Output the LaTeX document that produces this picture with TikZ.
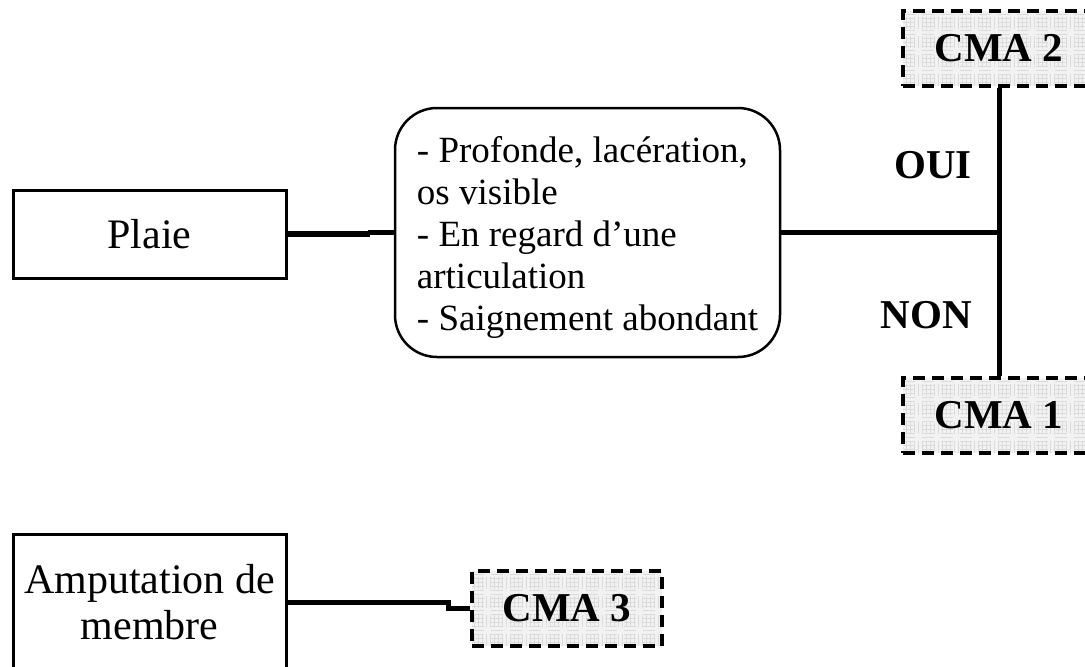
\documentclass[tikz,border=0pt]{standalone}
\usepackage{fontspec}
\setmainfont{Liberation Serif}
\begin{document}
\begin{tikzpicture}[x=1pt,y=-1pt,
  big/.style={font=\fontsize{42}{46}\selectfont},
  plainbox/.style={draw,line width=3pt,big,inner sep=0pt,align=center},
  critbox/.style={draw,line width=2.5pt,rounded corners=42pt,font=\fontsize{37}{42}\selectfont,inner sep=0pt,align=left},
  cmabox/.style={draw,line width=3.5pt,dash pattern=on 12pt off 7pt,fill=gray!10,
    font=\fontsize{41}{41}\selectfont\bfseries,inner sep=0pt,
    minimum width=192pt,minimum height=75pt,
    path picture={\draw[gray!28,line width=0.5pt,step=4pt]
      (path picture bounding box.south west) grid (path picture bounding box.north east);}},
  lbl/.style={font=\fontsize{41}{41}\selectfont\bfseries,inner sep=0pt},
  conn/.style={line width=4.5pt},
]
\useasboundingbox (0,0) rectangle (1085,667);

\node[plainbox,minimum width=273pt,minimum height=88pt] (plaie) at (149.5,234) {Plaie};
\node[critbox,minimum width=385pt,minimum height=249pt] (crit) at (587.5,232.5)
  {\rule{0pt}{35pt}- Profonde, lacération,\\os visible\\- En regard d’une\\articulation\\- Saignement abondant};
\node[cmabox] (cma2) at (999,48.5) {CMA 2};
\node[cmabox] (cma1) at (999,415.5) {CMA 1};
\node[plainbox,minimum width=273pt,minimum height=136pt] (amp) at (149.5,602) {Amputation de\\membre};
\node[cmabox,minimum width=190pt] (cma3) at (567,608.5) {CMA 3};

\node[lbl,anchor=base east] (oui) at (972,178) {OUI};
\node[lbl,anchor=base east] (non) at (972,328) {NON};

\coordinate (jp) at (370,234);
\draw[line width=5.5pt] (plaie.east) -- (jp);
\draw[conn] (jp) |- (crit.west);
\draw[conn] (crit.east) -- (crit.east -| cma2.south);
\draw[conn,line width=5pt] (cma2.south) -- (cma1.north);
\coordinate (ja) at (448,602);
\draw[line width=5pt] (amp.east) -- (ja) |- (cma3.west);
\end{tikzpicture}
\end{document}
